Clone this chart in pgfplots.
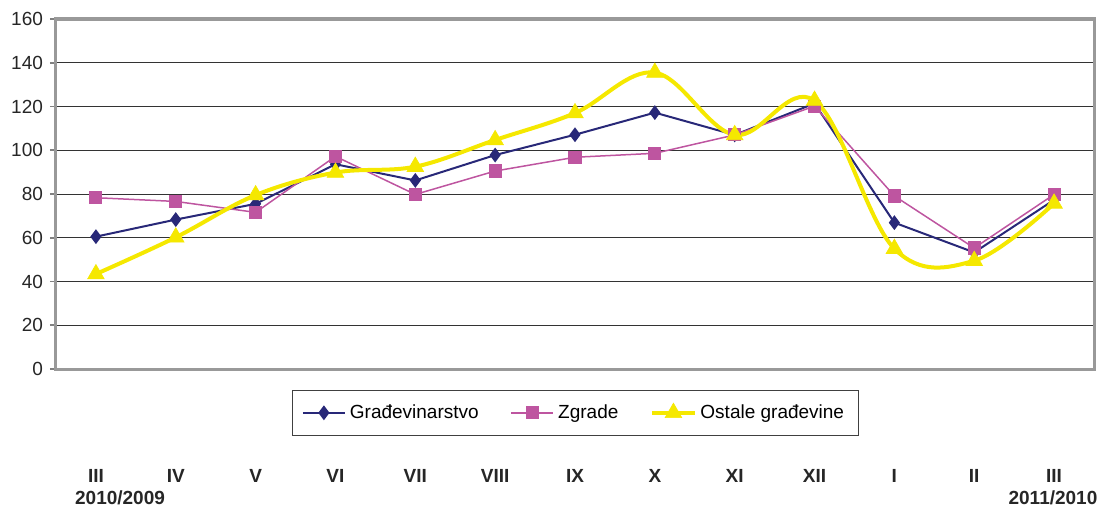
\documentclass[border=0pt]{standalone}
\usepackage{fontspec}
\setmainfont{Liberation Sans}
\usepackage{pgfplots}
\pgfplotsset{compat=1.18}
\definecolor{navy}{RGB}{40,40,120}
\definecolor{mag}{RGB}{190,85,160}
\definecolor{yel}{RGB}{245,232,0}
\begin{document}
\begin{tikzpicture}[font=\fontsize{9.5}{11}\selectfont]
\useasboundingbox (-28pt,-70pt) rectangle (524pt,184.5pt);
\begin{axis}[
  at={(0,0)}, anchor=south west,
  scale only axis, width=519pt, height=175pt,
  xmin=-0.5, xmax=12.5, ymin=0, ymax=160,
  clip=false,
  ytick={0,20,...,160},
  xtick={0,...,12},
  ytick pos=left,
  xticklabels={III,IV,V,VI,VII,VIII,IX,X,XI,XII,I,II,III},
  xticklabel style={font=\fontsize{9.5}{11}\selectfont\bfseries, anchor=base, yshift=-53.5pt, text=black!85},
  yticklabel style={font=\fontsize{9.5}{11}\selectfont, text=black!85},
  /pgf/number format/assume math mode=true,
  x tick style={draw=none},
  ymajorgrids, grid style={draw=black!80, line width=0.5pt},
  axis line style={draw=black!40, line width=1.5pt},
  tick align=outside, ytick style={draw=black!50, line width=0.8pt}, major tick length=3pt,
  legend style={at={(0.5,-0.06)}, anchor=north, legend columns=3, draw=black!75,
    inner xsep=5pt, inner ysep=5pt, font=\fontsize{9.5}{11}\selectfont,
    /tikz/every even column/.append style={column sep=14pt}},
  legend cell align=left,
  legend image code/.code={\draw[mark repeat=2,mark phase=2] plot coordinates {(0pt,0pt) (10.5pt,0pt) (21pt,0pt)};},
]
\addplot[navy, line width=1pt, mark=diamond*, mark size=2.9pt] coordinates {
 (0,60.5) (1,68.3) (2,75.5) (3,93.6) (4,86.2) (5,97.8) (6,107.1) (7,117.2) (8,107) (9,121.4) (10,66.9) (11,53.3) (12,77.3)};
\addlegendentry{Građevinarstvo}
\addplot[mag, line width=0.75pt, mark=square*, mark size=2.9pt] coordinates {
 (0,78.3) (1,76.6) (2,71.6) (3,97.2) (4,79.8) (5,90.5) (6,96.8) (7,98.6) (8,107) (9,120.2) (10,79.1) (11,55.3) (12,79.8)};
\addlegendentry{Zgrade}
\addplot[yel, line width=2pt, smooth, tension=0.6, mark=triangle*, mark size=4.8pt, mark options={line width=0.3pt}] coordinates {
 (0,43.4) (1,60.2) (2,79.5) (3,89.8) (4,92.5) (5,104.7) (6,117) (7,135.5) (8,107) (9,122.7) (10,55) (11,49.5) (12,75.7)};
\addlegendentry{Ostale građevine}
\node[font=\fontsize{9.5}{11}\selectfont\bfseries, text=black!85, anchor=base] at (rel axis cs:0.0617,-0.3875) {2010/2009};
\node[font=\fontsize{9.5}{11}\selectfont\bfseries, text=black!85, anchor=base] at (rel axis cs:0.9605,-0.3875) {2011/2010};
\end{axis}
\end{tikzpicture}
\end{document}
